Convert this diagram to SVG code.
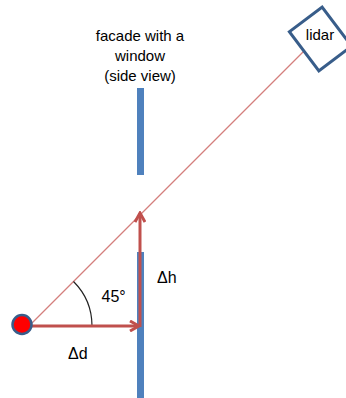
<svg xmlns="http://www.w3.org/2000/svg" width="346" height="398" viewBox="0 0 346 398">
<style>
text{font-family:"Liberation Sans",Arial,sans-serif;fill:#000}
.lbl{font-size:16px}
.t{font-size:15px;text-anchor:middle}
.bar{fill:#4f81bd}
.arrow{stroke:#c0504d;stroke-width:3;fill:none}
</style>
<defs>
<marker id="chev" viewBox="0 0 12 12" refX="10" refY="6" markerWidth="12" markerHeight="12" markerUnits="userSpaceOnUse" orient="auto">
<path d="M1,1 L10,6 L1,11" fill="none" stroke="#c0504d" stroke-width="3" stroke-linejoin="miter"/>
</marker>
</defs>
<rect width="346" height="398" fill="#fff"/>
<g id="facade">
<text class="t" x="140" y="41">facade with a</text>
<text class="t" x="140" y="61">window</text>
<text class="t" x="140" y="81">(side view)</text>
<rect class="bar" x="137" y="88" width="7" height="87"/>
<rect class="bar" x="137" y="252" width="7" height="146"/>
</g>
<g id="connectors">
<line x1="29" y1="326" x2="305" y2="50" stroke="#d47f7d" stroke-width="1.2"/>
<path d="M92,326 A63,63 0 0 0 73.5,281.5" fill="none" stroke="#222" stroke-width="1.2"/>
<line class="arrow" x1="31" y1="326" x2="139" y2="326" marker-end="url(#chev)"/>
<line class="arrow" x1="140" y1="327" x2="140" y2="213" marker-end="url(#chev)"/>
</g>
<g id="lidar">
<rect x="-20.5" y="-24.5" width="41" height="49" transform="translate(320.5,39) rotate(-37)" fill="#fff" stroke="#385d8a" stroke-width="3"/>
<text class="t" x="320" y="40">lidar</text>
</g>
<g id="point">
<circle cx="22" cy="324.5" r="9.5" fill="#ff0000" stroke="#385d8a" stroke-width="2.5"/>
</g>
<g id="labels">
<text class="lbl" x="101.5" y="302">45°</text>
<text class="lbl" x="157" y="283">Δh</text>
<text class="lbl" x="68" y="359">Δd</text>
</g>
</svg>
